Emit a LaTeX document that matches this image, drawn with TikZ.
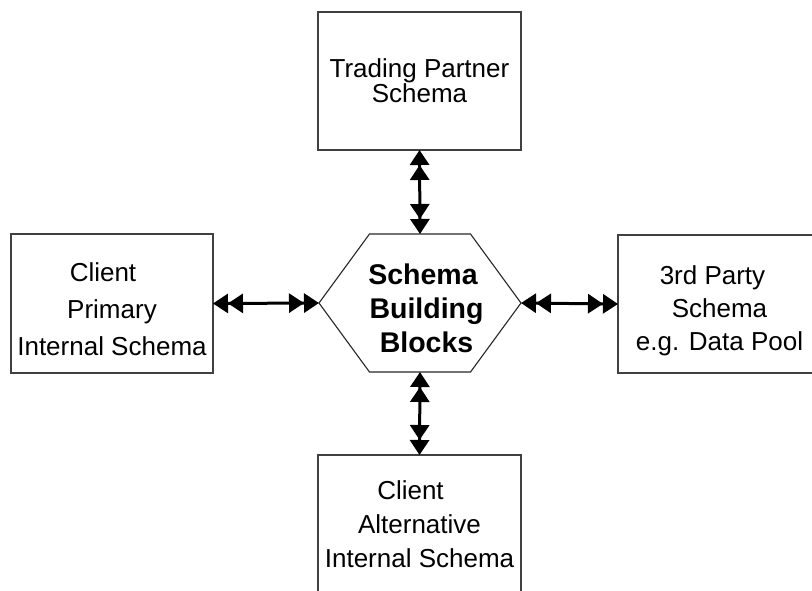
\documentclass[tikz,border=0pt]{standalone}
\usepackage{fontspec}
\setmainfont{Liberation Sans}
\usetikzlibrary{arrows.meta, positioning, calc}

\tikzset{
  schemabox/.style={draw=black!75, line width=1.1pt, minimum width=203pt, minimum height=138pt,
    inner sep=0pt, outer sep=0pt, align=center, font=\fontsize{26}{#1}\selectfont},
  schemabox/.default=34,
  hubbox/.style={minimum width=202pt, minimum height=138pt, inner sep=0pt, outer sep=0pt,
    align=center, font=\fontsize{28.5}{34}\selectfont\bfseries},
  hexline/.style={draw=black!85, line width=1.1pt, line join=miter},
  link/.style={line width=3pt, >={Triangle[length=15pt,width=19pt]}, <<->>}
}

\begin{document}
\begin{tikzpicture}[x=1pt, y=-1pt]
  \clip (0,0) rectangle (812,590);

  % Centre hexagon
  \node[hubbox] (hub) at (420,303)
    {\rule{0pt}{31pt}\hspace*{6pt}Schema\\\hspace*{13pt}Building\\\hspace*{13pt}Blocks};
  \draw[hexline] (hub.west) -- ($(hub.north west)!0.25!(hub.north east)$)
    -- ($(hub.north west)!0.75!(hub.north east)$) -- (hub.east)
    -- ($(hub.south west)!0.75!(hub.south east)$)
    -- ($(hub.south west)!0.25!(hub.south east)$) -- cycle;

  % Surrounding schemas
  \node[schemabox=23] (partner) at (419.5,81) {Trading Partner\\Schema};
  \node[schemabox=37, minimum width=202pt, minimum height=139pt] (primary) at (112,303.5)
    {\rule{0pt}{31pt}Client\hspace*{18pt}\\Primary\hspace*{10pt}\\Internal Schema};
  \node[schemabox=33] (party) at (719.5,304)
    {\rule{0pt}{32pt}3rd Party\hspace*{14pt}\\Schema\hspace*{8pt}\\e.g. Data Pool};
  \node[schemabox=34] (alternative) at (419.5,524)
    {Client\hspace*{18pt}\\Alternative\\Internal Schema};

  % Links
  \draw[link] (partner.south) -- (hub.north);
  \draw[link] (primary.east) -- (hub.west);
  \draw[link] (hub.east) -- (party.west);
  \draw[link] (hub.south) -- (alternative.north);
\end{tikzpicture}
\end{document}
